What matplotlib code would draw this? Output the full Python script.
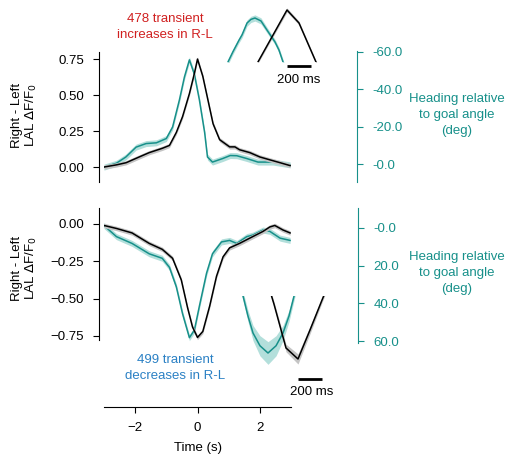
import numpy as np
import matplotlib
matplotlib.use("Agg")
import matplotlib.pyplot as plt

plt.rcParams['font.family'] = ['Liberation Sans', 'DejaVu Sans']

TEAL = '#17908a'
TEAL_BAND = '#b3dfdb'
GREY_BAND = '#c4c4c4'
RED = '#d02020'
BLUE = '#2a80c4'

# ---------------- data ----------------
# Top panel: transient increases (R-L dF/F0, black) and heading (deg, teal)
top_black_t = [-3.0, -2.6, -2.29, -1.87, -1.55, -1.13, -0.9, -0.68, -0.48, -0.26, -0.1, 0.0,
               0.17, 0.33, 0.5, 0.71, 1.03, 1.2, 1.35, 1.68, 2.0, 2.32, 2.65, 2.97]
top_black_v = [0.0, 0.015, 0.03, 0.07, 0.10, 0.13, 0.15, 0.24, 0.35, 0.51, 0.65, 0.75,
               0.63, 0.47, 0.30, 0.19, 0.14, 0.14, 0.12, 0.10, 0.07, 0.05, 0.03, 0.01]
top_teal_t = [-3.0, -2.6, -2.3, -1.97, -1.65, -1.32, -1.0, -0.8, -0.58, -0.42, -0.26, -0.1,
              0.06, 0.23, 0.32, 0.48, 0.81, 1.05, 1.26, 1.58, 1.94, 2.42, 2.97]
top_teal_deg = [1.6, -0.5, -3.8, -9.1, -11.0, -11.4, -13.7, -19.8, -34.4, -46.6, -55.8, -48.1,
                -34.4, -16.8, -3.8, -1.1, -3.0, -4.6, -4.5, -3.0, -1.1, -1.1, 0.4]

# Bottom panel: transient decreases
bot_black_t = [-3.0, -2.6, -2.1, -1.55, -1.13, -0.8, -0.52, -0.32, -0.16, 0.0, 0.17, 0.39,
               0.61, 0.82, 1.03, 1.35, 1.77, 2.1, 2.32, 2.48, 2.74, 2.97]
bot_black_v = [-0.01, -0.03, -0.06, -0.13, -0.17, -0.23, -0.375, -0.56, -0.69, -0.76, -0.72, -0.55,
               -0.35, -0.22, -0.16, -0.13, -0.085, -0.05, -0.02, -0.01, -0.04, -0.06]
bot_teal_t = [-3.0, -2.6, -2.1, -1.55, -1.13, -0.9, -0.68, -0.48, -0.26, -0.1, 0.06, 0.29,
              0.48, 0.77, 1.03, 1.26, 1.58, 1.77, 2.1, 2.32, 2.65, 2.97]
bot_teal_deg = [-1.3, 4.6, 8.2, 13.7, 16.1, 20.9, 31.2, 45.5, 58.2, 54.2, 41.5, 24.0,
                13.7, 7.4, 6.6, 8.2, 4.6, 3.8, 1.1, 1.8, 5.4, 6.6]

black_sem = 0.015
teal_sem_deg = 1.6

# Insets (zoomed peaks), time in ms, normalized amplitude
in_top_black_t = [-300, -200, -100, 0, 100, 200, 300]
in_top_black_v = [-0.24, 0.174, 0.587, 1.0, 0.75, 0.22, -0.31]
in_top_teal_t = [-540, -492, -450, -400, -375, -333, -300, -267, -217, -167, -100, -67, -33, 0]
in_top_teal_v = [-0.3, 0.0, 0.2, 0.42, 0.52, 0.75, 0.82, 0.846, 0.79, 0.615, 0.385, 0.23, 0.0, -0.25]
in_top_black_sem = [0.02, 0.03, 0.035, 0.04, 0.035, 0.03, 0.02]
in_top_teal_sem = [0.05, 0.05, 0.05, 0.05, 0.055, 0.06, 0.06, 0.06, 0.06, 0.055, 0.05, 0.05, 0.05, 0.05]

in_bot_black_t = [-300, -200, -100, 0, 100, 200, 300]
in_bot_black_v = [0.5, -0.13, -0.825, -1.0, -0.54, -0.065, 0.4]
in_bot_teal_t = [-500, -458, -417, -375, -317, -250, -183, -125, -75, -33, 0]
in_bot_teal_v = [0.3, 0.0, -0.317, -0.587, -0.79, -0.905, -0.79, -0.587, -0.317, 0.0, 0.25]
in_bot_black_sem = [0.03, 0.04, 0.06, 0.08, 0.06, 0.04, 0.03]
in_bot_teal_sem = [0.06, 0.07, 0.09, 0.12, 0.16, 0.18, 0.16, 0.12, 0.09, 0.07, 0.06]

left_ticks_top = [0.0, 0.25, 0.5, 0.75]
left_ticks_bot = [-0.75, -0.5, -0.25, 0.0]
right_ticks_top = [0, -20, -40, -60]
right_ticks_bot = [0, 20, 40, 60]
x_ticks = [-2, 0, 2]

W, H = 507, 463
fig = plt.figure(figsize=(W / 100, H / 100), dpi=100)


def fx(px):
    return px / W


def fy(py):
    return 1 - py / H


FS = 9.5
TICKPAD = 6.5
LS = 1.45

# ---------------- top panel ----------------
ax1 = fig.add_axes([fx(104), fy(182), fx(291) - fx(104), fy(52) - fy(182)])
ax1.set_xlim(-3, 3)
ax1.set_ylim(-0.104, 0.799)
bt = np.array(top_black_t); bv = np.array(top_black_v)
ax1.fill_between(bt, bv - black_sem, bv + black_sem, color=GREY_BAND, lw=0, zorder=2)
ax1.plot(bt, bv, color='black', lw=1.1, zorder=4)
for s in ['top', 'right', 'bottom']:
    ax1.spines[s].set_visible(False)
ax1.spines['left'].set_position(('outward', 3.6))
ax1.set_xticks([])
ax1.set_yticks(left_ticks_top)
ax1.set_yticklabels(['%.2f' % v for v in left_ticks_top])
ax1.tick_params(axis='y', labelsize=FS, length=4.3, width=0.8, pad=TICKPAD)
ax1.patch.set_alpha(0)

ax1r = ax1.twinx()
ax1r.set_ylim(9.56, -59.5)
tt = np.array(top_teal_t); td = np.array(top_teal_deg)
ax1r.fill_between(tt, td - teal_sem_deg, td + teal_sem_deg, color=TEAL_BAND, lw=0, zorder=1)
ax1r.plot(tt, td, color=TEAL, lw=1.1, zorder=3)
for s in ['top', 'left', 'bottom']:
    ax1r.spines[s].set_visible(False)
ax1r.spines['right'].set_position(('outward', 47.5))
ax1r.spines['right'].set_color(TEAL)
ax1r.spines['right'].set_bounds(9.56, -60.5)
ax1r.set_yticks(right_ticks_top)
ax1r.set_yticklabels(['-%.1f' % abs(v) for v in right_ticks_top])
ax1r.tick_params(axis='y', labelsize=FS, length=4.3, width=0.8, pad=TICKPAD,
                 colors=TEAL)
ax1.set_zorder(ax1r.get_zorder() + 1)

# ---------------- bottom panel ----------------
ax2 = fig.add_axes([fx(104), fy(407), fx(291) - fx(104), fy(208) - fy(407)])
ax2.set_xlim(-3, 3)
ax2.set_ylim(-1.226, 0.107)
bt = np.array(bot_black_t); bv = np.array(bot_black_v)
ax2.fill_between(bt, bv - black_sem, bv + black_sem, color=GREY_BAND, lw=0, zorder=2)
ax2.plot(bt, bv, color='black', lw=1.1, zorder=4)
for s in ['top', 'right']:
    ax2.spines[s].set_visible(False)
ax2.spines['left'].set_position(('outward', 3.6))
ax2.spines['left'].set_bounds(-0.777, 0.107)
ax2.set_yticks(left_ticks_bot)
ax2.set_yticklabels([('%.2f' % v).replace('-', '\u2212') for v in left_ticks_bot])
ax2.set_xticks(x_ticks)
ax2.set_xticklabels([str(v).replace('-', '\u2212') for v in x_ticks])
ax2.tick_params(axis='both', labelsize=FS, length=4.3, width=0.8, pad=TICKPAD)
ax2.set_xlabel('Time (s)', fontsize=FS, labelpad=6)
ax2.patch.set_alpha(0)

ax2r = ax2.twinx()
ax2r.set_ylim(95.0, -10.6)
tt = np.array(bot_teal_t); td = np.array(bot_teal_deg)
ax2r.fill_between(tt, td - teal_sem_deg, td + teal_sem_deg, color=TEAL_BAND, lw=0, zorder=1)
ax2r.plot(tt, td, color=TEAL, lw=1.1, zorder=3)
for s in ['top', 'left', 'bottom']:
    ax2r.spines[s].set_visible(False)
ax2r.spines['right'].set_position(('outward', 48.5))
ax2r.spines['right'].set_color(TEAL)
ax2r.spines['right'].set_bounds(-10.6, 60.8)
ax2r.set_yticks(right_ticks_bot)
ax2r.set_yticklabels(['-0.0' if v == 0 else '%.1f' % v for v in right_ticks_bot])
ax2r.tick_params(axis='y', labelsize=FS, length=4.3, width=0.8, pad=TICKPAD,
                 colors=TEAL)
ax2.set_zorder(ax2r.get_zorder() + 1)

# ---------------- labels ----------------
ylab = 'Right - Left\nLAL $\\Delta$F/F$_0$'
fig.text(fx(25), fy(115), ylab, rotation=90, ha='center', va='center',
         fontsize=FS, linespacing=1.1)
fig.text(fx(25), fy(268), ylab, rotation=90, ha='center', va='center',
         fontsize=FS, linespacing=1.1)
hlab = 'Heading relative\nto goal angle\n(deg)'
fig.text(fx(457), fy(115), hlab, ha='center', va='center', fontsize=FS,
         color=TEAL, linespacing=LS)
fig.text(fx(457), fy(273), hlab, ha='center', va='center', fontsize=FS,
         color=TEAL, linespacing=LS)
fig.text(fx(165), fy(27), '478 transient\nincreases in R-L', ha='center', va='center',
         fontsize=FS, color=RED, linespacing=LS)
fig.text(fx(175), fy(368), '499 transient\ndecreases in R-L', ha='center', va='center',
         fontsize=FS, color=BLUE, linespacing=LS)

# ---------------- insets ----------------
pxms = 0.12  # pixels per ms
# top inset: t=0 at x=287, v=0 at y=62, v=1 at y=10
in1 = fig.add_axes([fx(222), fy(62), fx(322) - fx(222), fy(5) - fy(62)])
in1.set_xlim((222 - 287) / pxms, (322 - 287) / pxms)
in1.set_ylim(0, (62 - 5) / 52)
a = np.array(in_top_teal_t); b = np.array(in_top_teal_v); e = np.array(in_top_teal_sem)
in1.fill_between(a, b - e, b + e, color=TEAL_BAND, lw=0)
in1.plot(a, b, color=TEAL, lw=1.1)
a = np.array(in_top_black_t); b = np.array(in_top_black_v); e = np.array(in_top_black_sem)
in1.fill_between(a, b - e, b + e, color=GREY_BAND, lw=0)
in1.plot(a, b, color='black', lw=1.1)
in1.axis('off')
in1.plot([0, 200], [-4 / 52, -4 / 52], color='black', lw=2, clip_on=False,
         solid_capstyle='butt')
in1.text(100, -18 / 52, '200 ms', ha='center', va='center', fontsize=FS)

# bottom inset: t=0 at x=298, v=0 at y=296, v=-1 at y=359
in2 = fig.add_axes([fx(235), fy(368), fx(330) - fx(235), fy(296) - fy(368)])
in2.set_xlim((235 - 298) / pxms, (330 - 298) / pxms)
in2.set_ylim(-(368 - 296) / 63, 0)
a = np.array(in_bot_teal_t); b = np.array(in_bot_teal_v); e = np.array(in_bot_teal_sem)
in2.fill_between(a, b - e, b + e, color=TEAL_BAND, lw=0)
in2.plot(a, b, color=TEAL, lw=1.1)
a = np.array(in_bot_black_t); b = np.array(in_bot_black_v); e = np.array(in_bot_black_sem)
in2.fill_between(a, b - e, b + e, color=GREY_BAND, lw=0)
in2.plot(a, b, color='black', lw=1.1)
in2.axis('off')
in2.plot([0, 200], [-(379 - 296) / 63] * 2, color='black', lw=2, clip_on=False,
         solid_capstyle='butt')
in2.text(110, -(392 - 296) / 63, '200 ms', ha='center', va='center', fontsize=FS)

fig.savefig('out.png', dpi=100)
